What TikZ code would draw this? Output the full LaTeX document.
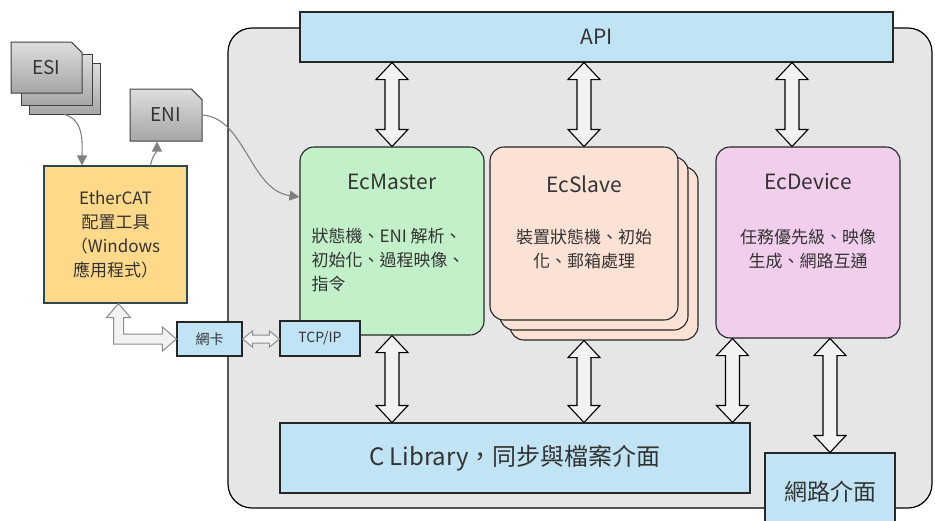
\documentclass[tikz,border=0pt]{standalone}
\usepackage{fontspec}
\setmainfont{Noto Sans CJK TC}
\usetikzlibrary{arrows.meta,calc,shapes.misc,positioning}

\definecolor{panelgray}{RGB}{230,230,230}
\definecolor{apiblue}{RGB}{192,228,243}
\definecolor{mastergreen}{RGB}{194,240,200}
\definecolor{slavepeach}{RGB}{252,226,213}
\definecolor{devicepink}{RGB}{240,206,236}
\definecolor{toolyellow}{RGB}{254,217,138}
\definecolor{tooledge}{RGB}{45,70,80}
\definecolor{linkgray}{RGB}{128,128,128}
\definecolor{arrowfill}{RGB}{242,242,242}

\newcommand\vlink[2]{\draw[blockarr] let \p1=(#1), \p2=(#2) in
  (\x1,\y1) -- ++(16pt,-17pt) -- ++(-9pt,0pt) -- (\x1+7pt,\y2+17pt) -- ++(9pt,0pt)
  -- (\x1,\y2) -- ++(-16pt,17pt) -- ++(9pt,0pt) -- (\x1-7pt,\y1-17pt) -- ++(-9pt,0pt) -- cycle;}
\newcommand\hlink[2]{\draw[lightarr] let \p1=(#1), \p2=(#2) in
  (\x1,\y1) -- ++(10pt,8pt) -- ++(0pt,-4pt) -- (\x2-10pt,\y1+4pt) -- ++(0pt,4pt)
  -- (\x2,\y1) -- ++(-10pt,-8pt) -- ++(0pt,4pt) -- (\x1+10pt,\y1-4pt) -- ++(0pt,-4pt) -- cycle;}

\begin{document}
\begin{tikzpicture}[x=1pt,y=-1pt,
  panel/.style={draw=black,line width=1.2pt,fill=panelgray,rounded corners=24pt},
  bluebox/.style={draw=black!85,line width=1.1pt,fill=apiblue,inner sep=0pt,text=black!80},
  module/.style={draw=black!85,line width=1.1pt,rounded corners=14pt},
  sheet/.style={chamfered rectangle,chamfered rectangle corners=north east,
    chamfered rectangle xsep=7pt,draw=black!75,line width=1pt,top color=black!13,
    bottom color=black!35,minimum width=71pt,minimum height=51pt,inner sep=0pt,
    font=\fontsize{19}{22}\selectfont,text=black!80},
  title/.style={font=\fontsize{21}{24}\selectfont,text=black!80},
  body/.style={font=\fontsize{17}{24}\selectfont,text=black!80,inner sep=0pt},
  filelink/.style={draw=linkgray,line width=1.1pt,-{Triangle[length=10pt,width=10pt]}},
  blockarr/.style={draw=black,line width=1.1pt,fill=arrowfill},
  lightarr/.style={draw=black!45,line width=1pt,fill=arrowfill}]
\useasboundingbox (0,0) rectangle (935,520);

\node[panel,minimum width=704pt,minimum height=480pt] (sys) at (580,268) {};
\node[bluebox,minimum width=593pt,minimum height=50pt,font=\fontsize{21}{24}\selectfont] (api) at (596.5,37) {API};

\node[module,fill=mastergreen,minimum width=184pt,minimum height=188pt] (master) at (392,241) {};
\node[module,fill=slavepeach,minimum width=188pt,minimum height=173pt] (slave3) at (604,253.5) {};
\node[module,fill=slavepeach,minimum width=188pt,minimum height=173pt] (slave2) at (594,243.5) {};
\node[module,fill=slavepeach,minimum width=188pt,minimum height=173pt] (slave) at (584,233.5) {};
\node[module,fill=devicepink,minimum width=184pt,minimum height=191pt] (device) at (808,242.5) {};

\node[title] (mastertitle) at ([yshift=-35pt]master.north) {EcMaster};
\node[body,align=left,anchor=west] (masterbody) at ([shift={(12pt,-114pt)}]master.north west)
  {狀態機、ENI 解析、\\初始化、過程映像、\\指令};
\node[title] (slavetitle) at ([yshift=-38pt]slave.north) {EcSlave};
\node[body,align=center] (slavebody) at ([yshift=-103pt]slave.north) {裝置狀態機、初始\\化、郵箱處理};
\node[title] (devicetitle) at ([yshift=-35pt]device.north) {EcDevice};
\node[body,align=center] (devicebody) at ([yshift=-103pt]device.north) {任務優先級、映像\\生成、網路互通};

\node[bluebox,minimum width=470pt,minimum height=70pt,font=\fontsize{24}{26}\selectfont] (clib) at (515,458) {C Library，同步與檔案介面};
\node[bluebox,minimum width=130pt,minimum height=77pt,font=\fontsize{23}{26}\selectfont] (netif) at (830,491.5) {網路介面};
\node[bluebox,minimum width=80pt,minimum height=35pt,font=\fontsize{14}{16}\selectfont] (tcp) at (320,338.5) {TCP/IP};
\node[bluebox,minimum width=65pt,minimum height=34pt,font=\fontsize{14}{16}\selectfont] (nic) at (209.5,339) {網卡};

\node[draw=tooledge,line width=1.1pt,fill=toolyellow,minimum width=143pt,minimum height=137pt,
  align=center,font=\fontsize{17}{24.3}\selectfont,text=black!80] (tool) at (115.5,234.5)
  {EtherCAT\\配置工具\\（Windows\\應用程式）};

\node[sheet] (esi3) at (64.5,88.5) {};
\node[sheet] (esi2) at (56.5,79.5) {};
\node[sheet] (esi) at (46.5,67.5) {ESI};
\node[sheet,minimum width=72pt,minimum height=52pt] (eni) at (166,115) {ENI};

\coordinate (devup) at ([xshift=-16pt]device.north);
\coordinate (devlo) at ([xshift=17pt]device.south west);
\vlink{api.south -| master.north}{master.north}
\vlink{api.south -| slave.north}{slave.north}
\vlink{api.south -| devup}{devup}
\vlink{master.south}{master.south |- clib.north}
\vlink{slave3.south -| slave.south}{slave.south |- clib.north}
\vlink{devlo}{devlo |- clib.north}
\vlink{device.south -| netif.north}{netif.north}

\draw[lightarr] let \p1=([xshift=3pt]tool.south), \p2=(nic.west) in
  (\x1,\y1) -- ++(12pt,-14pt) -- ++(-7pt,0pt) -- (\x1+5pt,\y2+5pt) -- (\x2-14pt,\y2+5pt)
  -- ++(0pt,7pt) -- (\x2,\y2) -- ++(-14pt,-12pt) -- ++(0pt,7pt) -- (\x1-5pt,\y2-5pt)
  -- (\x1-5pt,\y1-14pt) -- ++(-7pt,0pt) -- cycle;
\hlink{nic.east}{tcp.west}

\draw[filelink] (esi3.south) to[out=-15,in=90] ([xshift=-33.5pt]tool.north);
\draw[filelink] ([xshift=35pt]tool.north) to[out=80,in=-90] ([xshift=-9pt]eni.south);
\draw[filelink] (eni.east) .. controls (245,118) and (250,190) .. ([yshift=44pt]master.west);
\end{tikzpicture}
\end{document}
